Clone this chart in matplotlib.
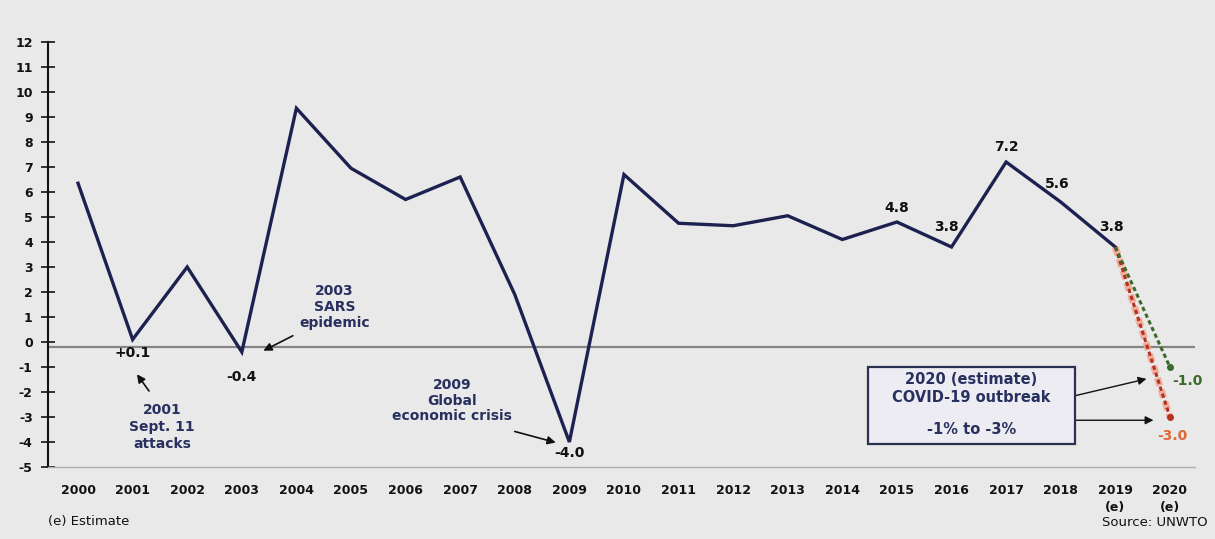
import matplotlib
matplotlib.use("Agg")
import matplotlib.pyplot as plt
from matplotlib.patches import Rectangle

plt.rcParams['font.family'] = ['DejaVu Sans']

# International tourist arrivals, annual growth (%)
years = [2000, 2001, 2002, 2003, 2004, 2005, 2006, 2007, 2008, 2009,
         2010, 2011, 2012, 2013, 2014, 2015, 2016, 2017, 2018, 2019]
growth = [6.35, 0.1, 3.0, -0.4, 9.35, 6.95, 5.7, 6.6, 1.9, -4.0,
          6.7, 4.75, 4.65, 5.05, 4.1, 4.8, 3.8, 7.2, 5.6, 3.8]

# 2020 estimate range
estimate_year = 2020
estimate_high = -1.0
estimate_low = -3.0

tick_years = list(range(2000, 2021))
tick_labels = [str(y) for y in range(2000, 2019)] + ["2019\n(e)", "2020\n(e)"]
y_ticks = list(range(-5, 13))

labelled = {2015: "4.8", 2016: "3.8", 2017: "7.2", 2018: "5.6", 2019: "3.8"}
label_offsets = {2015: (0.0, 0.55), 2016: (-0.1, 0.8), 2017: (0.0, 0.6),
                 2018: (-0.07, 0.7), 2019: (-0.07, 0.8)}

BG = "#e9e9e9"
NAVY = "#1c2150"
TEXT_NAVY = "#27305e"
GREEN = "#3b6b2a"
RED = "#b3321f"
ORANGE = "#e0673a"

fig = plt.figure(figsize=(12.15, 5.39), dpi=100, facecolor=BG)
ax = fig.add_axes([48 / 1215, 1 - 467 / 539, (1195 - 48) / 1215, (467 - 42) / 539])
ax.set_facecolor(BG)

ax.set_xlim(1999.45, 2020.46)
ax.set_ylim(-5, 12)

# Reference line near zero
ax.axhline(-0.2, color="#858585", lw=1.6, zorder=1)

# Main series
ax.plot(years, growth, color=NAVY, lw=2.4, zorder=3, solid_joinstyle="miter")

# 2020 estimate segments
last_y, last_v = years[-1], growth[-1]
ax.plot([last_y, estimate_year], [last_v, estimate_low], color="#f2a08c",
        lw=5, ls=(0, (1.2, 0.6)), zorder=2, alpha=0.8)
ax.plot([last_y, estimate_year], [last_v, estimate_low], color=RED,
        lw=2.2, ls=(0, (1.4, 1.0)), zorder=3)
ax.plot([last_y, estimate_year], [last_v, estimate_high], color=GREEN,
        lw=2.2, ls=(0, (1.4, 1.0)), zorder=3)
ax.plot([estimate_year], [estimate_high], "o", color=GREEN, ms=4, zorder=4)
ax.plot([estimate_year], [estimate_low], "o", color=RED, ms=4, zorder=4)
ax.text(estimate_year + 0.05, estimate_high - 0.55, "-1.0", color=GREEN,
        fontsize=10, fontweight="bold", ha="left", va="center")
ax.text(estimate_year + 0.05, estimate_low - 0.75, "-3.0", color=ORANGE,
        fontsize=10, fontweight="bold", ha="center", va="center")

# Value labels
for yr, txt in labelled.items():
    v = growth[years.index(yr)]
    dx, dy = label_offsets[yr]
    ax.text(yr + dx, v + dy, txt, fontsize=10, fontweight="bold",
            ha="center", va="center", color="#111111")
ax.text(2001, -0.45, "+0.1", fontsize=10, fontweight="bold", ha="center",
        va="center", color="#111111")
ax.text(2003, -1.4, "-0.4", fontsize=10, fontweight="bold", ha="center",
        va="center", color="#111111")
ax.text(2009, -4.45, "-4.0", fontsize=10, fontweight="bold", ha="center",
        va="center", color="#111111")

# Event annotations
arrow = dict(arrowstyle="-|>", color="#111111", lw=1.2, mutation_scale=12)
ax.annotate("", xy=(2001.05, -1.2), xytext=(2001.33, -2.05), arrowprops=arrow)
ax.text(2001.54, -3.4, "2001\nSept. 11\nattacks", color=TEXT_NAVY, fontsize=10,
        fontweight="bold", ha="center", va="center", linespacing=1.3)

ax.annotate("", xy=(2003.35, -0.4), xytext=(2003.98, 0.3), arrowprops=arrow)
ax.text(2004.7, 1.4, "2003\nSARS\nepidemic", color=TEXT_NAVY, fontsize=10,
        fontweight="bold", ha="center", va="center", linespacing=1.2)

ax.annotate("", xy=(2008.8, -4.05), xytext=(2007.95, -3.55), arrowprops=arrow)
ax.text(2006.85, -2.35, "2009\nGlobal\neconomic crisis", color=TEXT_NAVY,
        fontsize=10, fontweight="bold", ha="center", va="center", linespacing=1.15)

# COVID-19 box
box_left, box_right = 2014.47, 2018.26
box_top, box_bottom = -1.0, -4.08
ax.add_patch(Rectangle((box_left, box_bottom), box_right - box_left,
                       box_top - box_bottom, fc="#ececf2", ec="#2a3050",
                       lw=1.6, zorder=4))
box_cx = (box_left + box_right) / 2
for ty, txt in ((-1.52, "2020 (estimate)"), (-2.2, "COVID-19 outbreak"),
                (-3.52, "-1% to -3%")):
    ax.text(box_cx, ty, txt, color=TEXT_NAVY, fontsize=10.5, fontweight="bold",
            ha="center", va="center", zorder=5)
ax.annotate("", xy=(2019.62, -1.45), xytext=(box_right, -2.15),
            arrowprops=dict(arrowstyle="-|>", color="#111111", lw=1.0,
                            mutation_scale=12, shrinkA=0))
ax.annotate("", xy=(2019.75, -3.13), xytext=(box_right, -3.13),
            arrowprops=dict(arrowstyle="-|>", color="#111111", lw=1.0,
                            mutation_scale=12, shrinkA=0))

# Axes styling
for side in ("top", "right"):
    ax.spines[side].set_visible(False)
ax.spines["left"].set_color("#111111")
ax.spines["left"].set_linewidth(1.5)
ax.spines["bottom"].set_color("#b0b0b0")
ax.spines["bottom"].set_linewidth(1.0)
ax.spines["bottom"].set_linestyle((0, (2, 1)))

ax.set_yticks(y_ticks)
ax.set_yticklabels([str(v) for v in y_ticks], fontsize=9, fontweight="bold")
ax.tick_params(axis="y", direction="inout", length=10, width=1.2, pad=6,
               colors="#111111")
ax.set_xticks(tick_years)
ax.set_xticklabels(tick_labels, fontsize=9, fontweight="bold", linespacing=1.4)
ax.tick_params(axis="x", length=0, pad=12, colors="#111111")

fig.text(48 / 1215, 1 - 522 / 539, "(e) Estimate", fontsize=9.5,
         ha="left", va="center", color="#111111")
fig.text(1208 / 1215, 1 - 522 / 539, "Source: UNWTO", fontsize=9.5,
         ha="right", va="center", color="#111111")

fig.savefig("out.png", dpi=100, facecolor=BG)
